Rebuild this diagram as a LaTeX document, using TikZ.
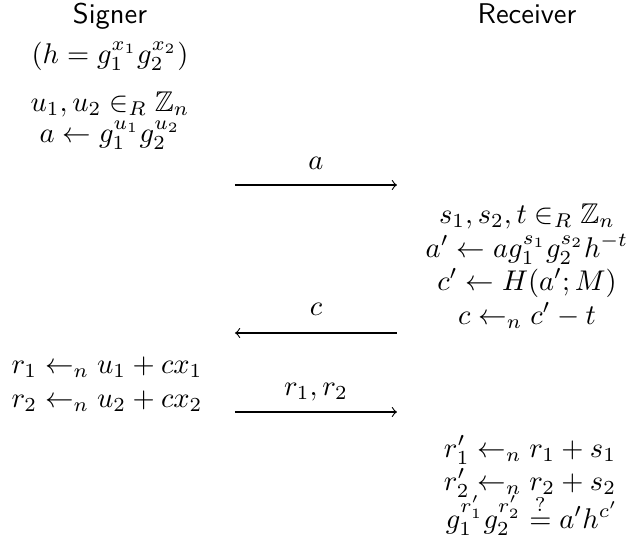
\documentclass[tikz,border=0pt]{standalone}
\usepackage{amssymb}
\begin{document}
\begin{tikzpicture}[x=0.3509pt,y=-0.3509pt,
  lbl/.style={inner sep=0pt, anchor=base},
  msg/.style={line width=0.4pt, ->}]
\useasboundingbox (0,0) rectangle (627,547);
% headers
\node[lbl] (signer) at (110,23) {\sffamily Signer};
\node[lbl] (receiver) at (527,23) {\sffamily Receiver};
% signer column
\node[lbl] (h) at (110,63) {$(h = g_1^{x_1} g_2^{x_2})$};
\node[lbl] (u) at (110,111) {$u_1, u_2 \in_R \mathbb{Z}_n$};
\node[lbl] (agen) at (110,142) {$a \leftarrow g_1^{u_1} g_2^{u_2}$};
% message a
\coordinate (aL) at (235,185);
\coordinate (aR) at (397,185);
\draw[msg] (aL) -- (aR);
\node[lbl] (la) at (316,169) {$a$};
% receiver column
\node[lbl] (s) at (527,223) {$s_1, s_2, t \in_R \mathbb{Z}_n$};
\node[lbl] (ap) at (527,257) {$a' \leftarrow a g_1^{s_1} g_2^{s_2} h^{-t}$};
\node[lbl] (cp) at (527,290) {$c' \leftarrow H(a';M)$};
\node[lbl] (c) at (527,324) {$c \leftarrow_n c' - t$};
% message c
\coordinate (cL) at (235,333);
\coordinate (cR) at (397,333);
\draw[msg] (cR) -- (cL);
\node[lbl] (lc) at (316,315) {$c$};
% signer responses
\node[lbl] (r1) at (107,373) {$r_1 \leftarrow_n u_1 + c x_1$};
\node[lbl] (r2) at (107,407) {$r_2 \leftarrow_n u_2 + c x_2$};
% message r1, r2
\coordinate (rL) at (235,412);
\coordinate (rR) at (397,412);
\draw[msg] (rL) -- (rR);
\node[lbl] (lr) at (316,395) {$r_1, r_2$};
% verification
\node[lbl] (rp1) at (530,457) {$r_1' \leftarrow_n r_1 + s_1$};
\node[lbl] (rp2) at (530,490) {$r_2' \leftarrow_n r_2 + s_2$};
\node[lbl] (ver) at (532,528) {$g_1^{r_1'} g_2^{r_2'} \stackrel{?}{=} a' h^{c'}$};
\end{tikzpicture}
\end{document}
